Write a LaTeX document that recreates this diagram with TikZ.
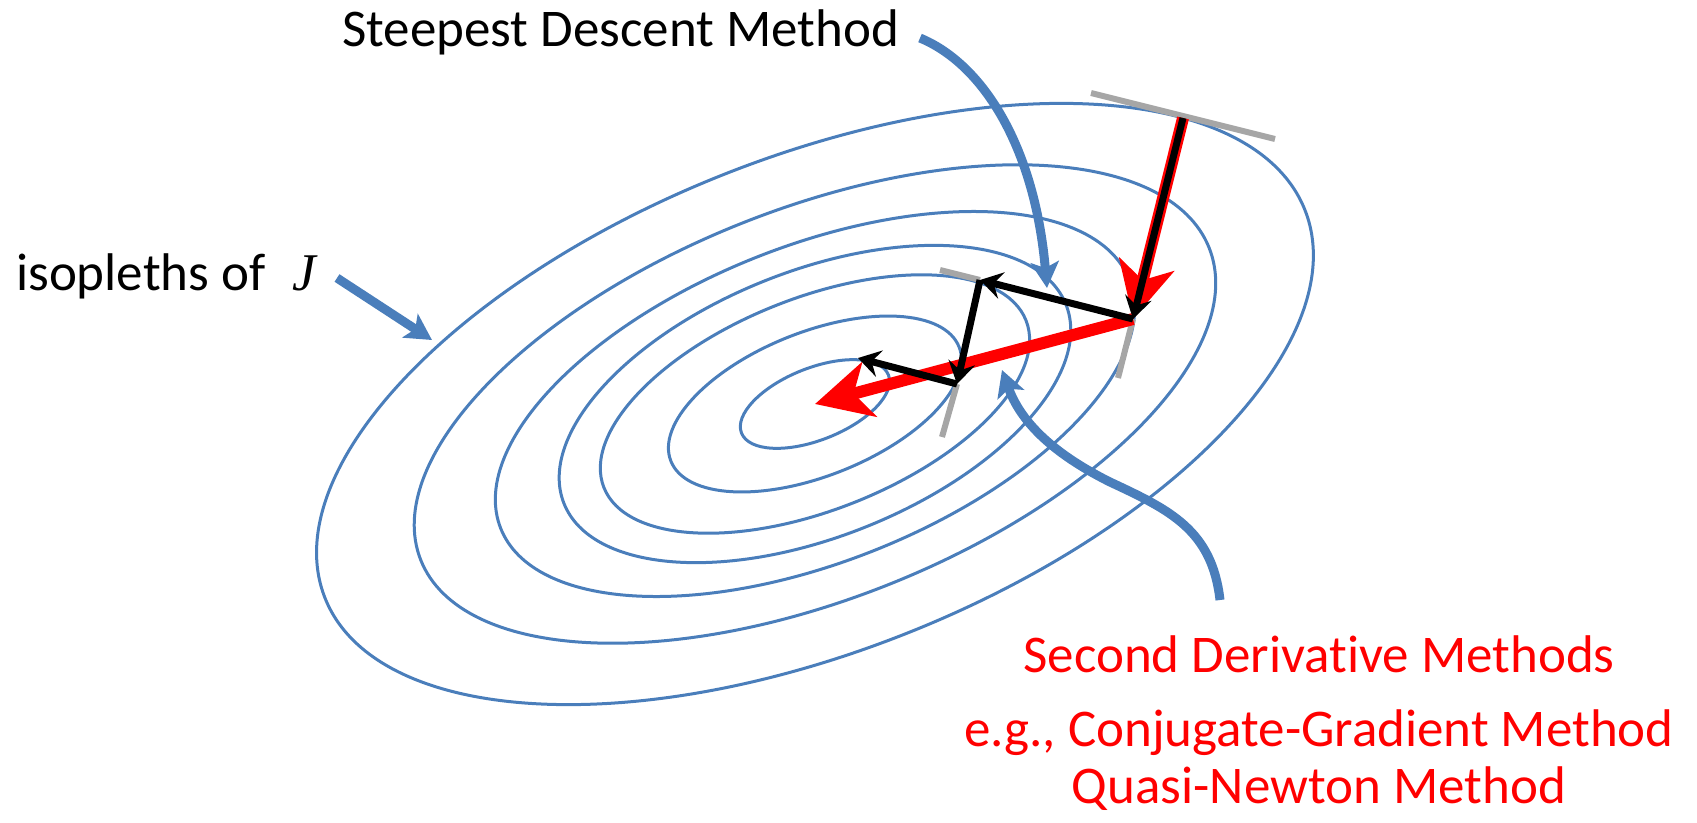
\documentclass[tikz,border=0pt]{standalone}
\usepackage{fontspec}
\setmainfont{Carlito}[Ligatures=NoCommon]
\newfontfamily\jfont{Liberation Serif}
\usepackage{xcolor}
\usetikzlibrary{arrows.meta}

\definecolor{contourblue}{HTML}{4A7EBB}
\definecolor{tangentgray}{HTML}{A6A6A6}

\begin{document}
\begin{tikzpicture}[
  x=1pt, y=-1pt,
  font=\fontsize{53}{60}\selectfont,
  contour/.style={draw=contourblue, line width=3pt},
  tanline/.style={draw=tangentgray, line width=6pt},
  sdstep/.style={draw=black, line width=7pt, -{Stealth[length=22pt,width=27pt,inset=8pt]}},
  newton/.style={draw=red, line width=12pt, -{Stealth[length=56pt,width=56pt,inset=16pt]}},
  pointer/.style={draw=contourblue, line width=9pt, -{Stealth[length=26pt,width=28pt,inset=6pt]}},
  lbl/.style={inner sep=0pt}
]
\useasboundingbox (0,0) rectangle (1697,822);

% iterates
\coordinate (xmin) at (815,404);
\coordinate (x0) at (1183,118);
\coordinate (x1) at (1133,319);
\coordinate (x2) at (980,280);
\coordinate (x3) at (957,384);
\coordinate (x4) at (858,358);

% isopleths
\foreach \a/\b in {527/247, 424/195, 338/158, 270/133, 227/106, 155/72, 79/36}
  \draw[contour, rotate around={21.6:(xmin)}] (xmin) ellipse [x radius=\a*1pt, y radius=\b*1pt];

% tangents
\coordinate (t0a) at (1091,93);
\coordinate (t0b) at (1275,139);
\coordinate (t1b) at (1118,378);
\coordinate (t2a) at (940,270);
\coordinate (t3b) at (942,437);
\draw[tanline] (t0a) -- (t0b);
\draw[tanline] (x1) -- (t1b);
\draw[tanline] (t2a) -- (x2);
\draw[tanline] (x3) -- (t3b);

% second derivative path
\draw[newton] (x0) -- (x1);
\draw[newton] (x1) -- (xmin);

% steepest descent path
\draw[sdstep] (x0) -- (x1);
\draw[sdstep] (x1) -- (x2);
\draw[sdstep] (x2) -- (x3);
\draw[sdstep] (x3) -- (x4);

% labels
\node[lbl, anchor=base west] (sdm) at (342,46) {Steepest Descent Method};
\node[lbl, anchor=base west] (iso) at (16,290) {isopleths of\hspace{0.5em}{\jfont\itshape J}};
\node[lbl, anchor=base, text=red] (sdmeth) at (1319,672) {Second Derivative Methods};
\node[lbl, anchor=base, text=red] (cg) at (1319,746) {e.g., Conjugate-Gradient Method};
\node[lbl, anchor=base, text=red] (qn) at (1319,803) {Quasi-Newton Method};

% pointers
\coordinate (isotail) at (337,278);
\coordinate (isohead) at (432,340);
\coordinate (sdtail) at (920,38);
\coordinate (sdhead) at (1047,288);
\coordinate (ndtail) at (1220,600);
\coordinate (ndhead) at (1002,370);
\draw[pointer] (isotail) -- (isohead);
\draw[pointer] (sdtail) .. controls (985,65) and (1035,150) .. (sdhead);
\draw[pointer] (ndtail) .. controls (1212,530) and (1170,510) .. (1110,482)
  .. controls (1050,452) and (1020,420) .. (ndhead);
\end{tikzpicture}
\end{document}
